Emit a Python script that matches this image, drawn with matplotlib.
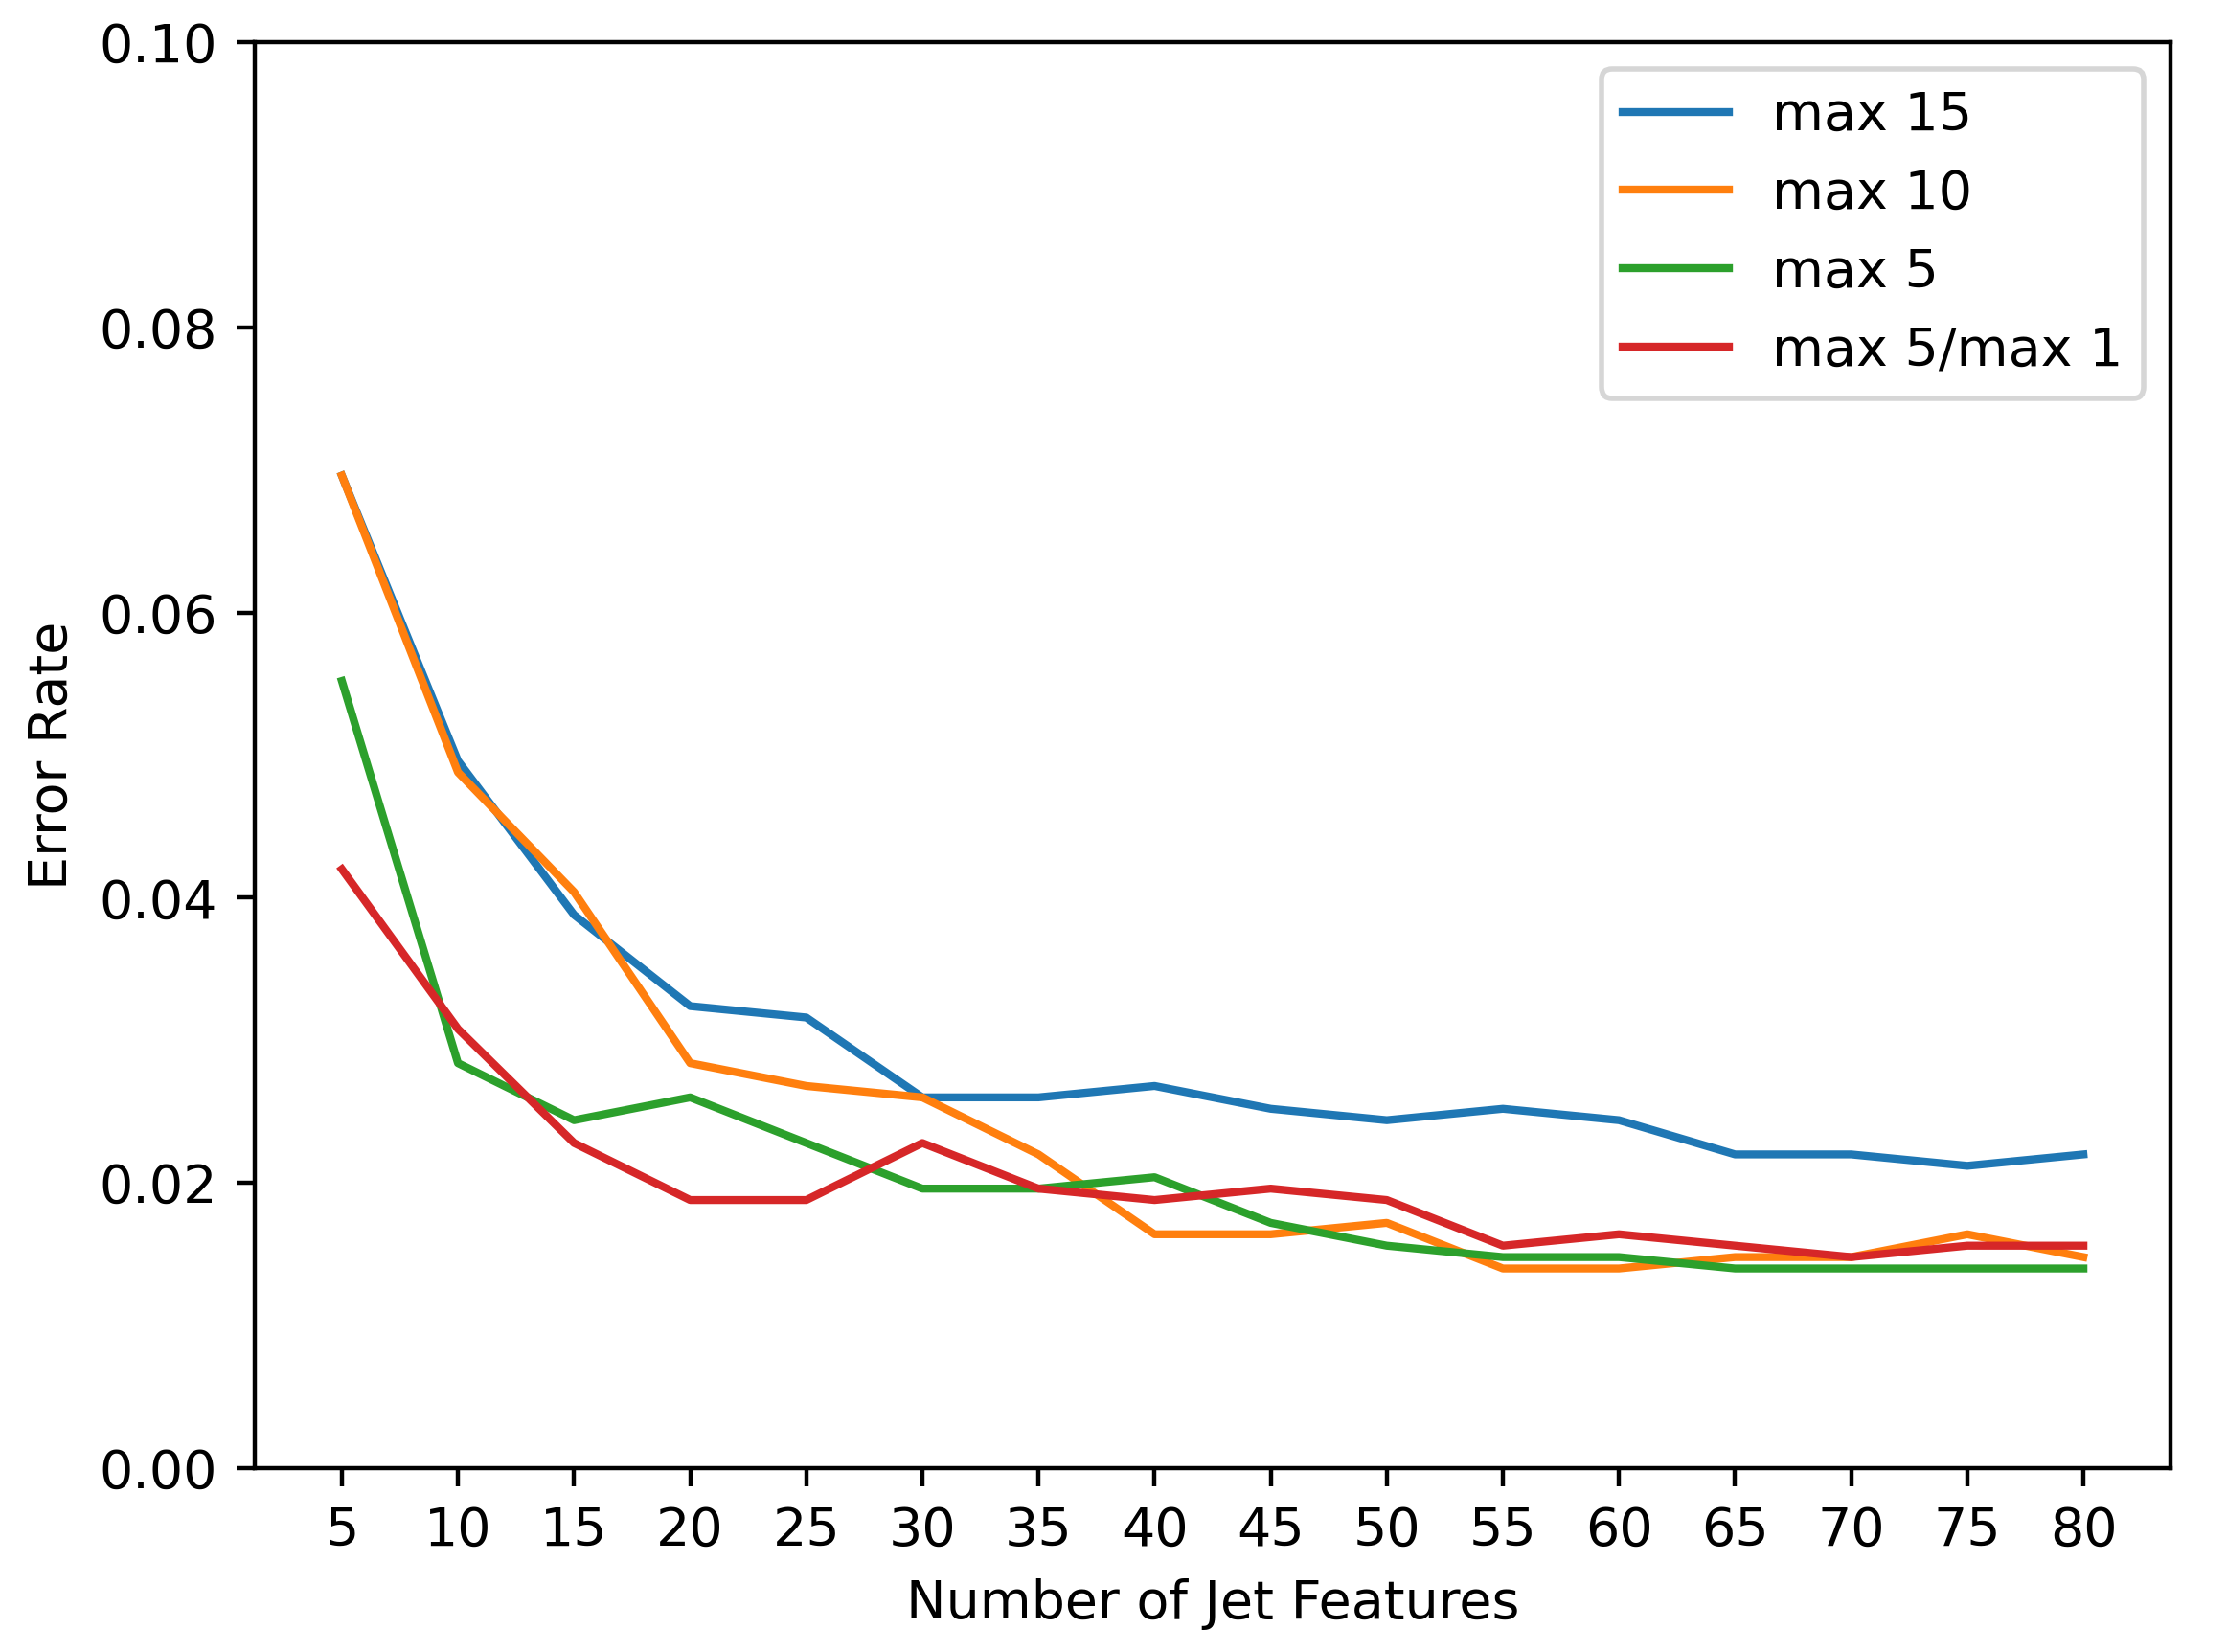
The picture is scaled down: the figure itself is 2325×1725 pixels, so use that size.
import matplotlib
matplotlib.use("Agg")
import matplotlib.pyplot as plt

features = [5, 10, 15, 20, 25, 30, 35, 40, 45, 50, 55, 60, 65, 70, 75, 80]

err_max15 = [0.0696, 0.0496, 0.0388, 0.0324, 0.0316, 0.0260, 0.0260, 0.0268,
             0.0252, 0.0244, 0.0252, 0.0244, 0.0220, 0.0220, 0.0212, 0.0220]
err_max10 = [0.0696, 0.0488, 0.0404, 0.0284, 0.0268, 0.0260, 0.0220, 0.0164,
             0.0164, 0.0172, 0.0140, 0.0140, 0.0148, 0.0148, 0.0164, 0.0148]
err_max5 = [0.0552, 0.0284, 0.0244, 0.0260, 0.0228, 0.0196, 0.0196, 0.0204,
            0.0172, 0.0156, 0.0148, 0.0148, 0.0140, 0.0140, 0.0140, 0.0140]
err_max5_max1 = [0.0420, 0.0308, 0.0228, 0.0188, 0.0188, 0.0228, 0.0196, 0.0188,
                 0.0196, 0.0188, 0.0156, 0.0164, 0.0156, 0.0148, 0.0156, 0.0156]

labels = ["max 15", "max 10", "max 5", "max 5/max 1"]

fig = plt.figure(figsize=(2325 / 400, 1725 / 400), dpi=400)
ax = fig.add_axes([266 / 2325, 1 - 1533 / 1725, 2000 / 2325, 1489 / 1725])

for ys, lab in zip([err_max15, err_max10, err_max5, err_max5_max1], labels):
    ax.plot(features, ys, label=lab)

ax.set_ylim(0, 0.10)
ax.set_xticks(features)
ax.set_xlabel("Number of Jet Features")
ax.set_ylabel("Error Rate")
ax.legend(loc="upper right")

fig.savefig("out.png", dpi=400)
